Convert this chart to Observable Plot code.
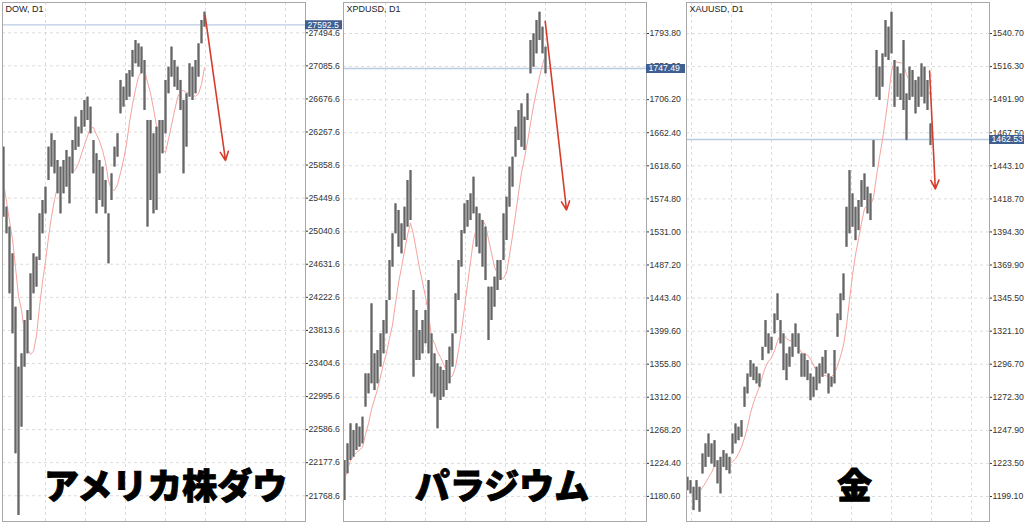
<!DOCTYPE html>
<html><head><meta charset="utf-8">
<script src="https://cdn.jsdelivr.net/npm/d3@7"></script>
<script src="https://cdn.jsdelivr.net/npm/@observablehq/plot@0.6"></script>
<style>
html,body{margin:0;padding:0;background:#fff;}
#row{display:flex;width:1024px;height:527px;overflow:hidden;}
#row svg{flex:none;}
</style></head><body><div id="row"></div>
<script>
// ---- DOW, D1 ----
const dowHigh = [26080,25338,25091,24761,24101,23359,23524,23936,24060,24513,24761,24720,25255,25420,25585,26080,26245,26162,25915,25833,25915,26039,25956,26162,26451,26327,26534,26657,26698,26575,26162,25998,25915,25833,25668,25255,25750,26080,26245,26905,26822,26987,27028,27276,27399,27358,27317,27152,26410,26410,26245,26327,26410,26410,26905,27069,27317,27152,27069,26905,26657,26740,27111,27069,27152,27358,27647,27750];
const dowLow = [25214,25008,24266,23771,22287,21525,22617,23359,23524,23936,24266,24348,24678,25008,25255,25668,25833,25750,25503,25255,25503,25585,25379,25750,26039,26080,26245,26327,26410,26245,25750,25255,25420,25338,25255,24637,25420,25833,25956,26492,26575,26657,26698,26946,27111,27069,26987,26534,25091,25420,25255,25297,25750,25998,26245,26740,26946,26822,26781,26534,25750,26080,26698,26657,26740,26946,27358,27564];
const dowTicks = [27494.6,27085.6,26676.6,26267.6,25858.6,25449.6,25040.6,24631.6,24222.6,23813.6,23404.6,22995.6,22586.6,22177.6,21768.6];
const dowPrice = 27592.5;
const dowArrow = {x1: 67.2, y1: 27709, x2: 74, y2: 25915};

// ---- XPDUSD, D1 ----
const xpdHigh = [1228.2,1250.3,1276.8,1268.0,1276.8,1272.4,1285.6,1343.0,1343.0,1435.7,1369.5,1373.9,1396.0,1413.7,1440.2,1493.1,1528.5,1568.2,1559.4,1541.7,1563.8,1599.1,1612.3,1453.4,1426.9,1400.4,1413.7,1426.9,1466.6,1396.0,1369.5,1356.3,1351.9,1347.4,1360.7,1378.3,1396.0,1449.0,1493.1,1532.9,1568.2,1572.6,1581.4,1603.5,1563.8,1554.9,1546.1,1537.3,1457.8,1457.8,1471.1,1493.1,1493.1,1554.9,1577.0,1616.8,1630.0,1669.7,1691.8,1700.6,1683.0,1713.9,1784.5,1793.4,1811.0,1822.0,1802.2,1775.7];
const xpdLow = [1175.2,1210.6,1228.2,1232.6,1241.5,1245.9,1250.3,1298.9,1316.5,1329.8,1320.9,1329.8,1351.9,1369.5,1396.0,1440.2,1484.3,1528.5,1510.8,1502.0,1519.6,1537.3,1546.1,1338.6,1360.7,1360.7,1369.5,1382.8,1369.5,1316.5,1312.1,1270.2,1307.7,1312.1,1320.9,1329.8,1351.9,1396.0,1440.2,1484.3,1528.5,1537.3,1546.1,1554.9,1510.8,1502.0,1484.3,1466.6,1387.2,1413.7,1431.3,1453.4,1466.6,1493.1,1519.6,1563.8,1590.3,1630.0,1652.1,1643.2,1638.8,1678.6,1740.4,1749.2,1766.9,1784.5,1766.9,1740.4];
const xpdTicks = [1793.80,1750.00,1706.20,1662.40,1618.60,1574.80,1531.00,1487.20,1443.40,1399.60,1355.80,1312.00,1268.20,1224.40,1180.60];
const xpdPrice = 1747.49;
const xpdArrow = {x1: 66.9, y1: 1810, x2: 74, y2: 1560};

// ---- XAUUSD, D1 ----
const xauHigh = [1213.3,1210.8,1205.9,1210.8,1205.9,1230.5,1237.9,1245.2,1237.9,1240.3,1225.5,1228.0,1233.0,1230.5,1228.0,1245.2,1252.6,1250.2,1255.1,1279.7,1289.5,1299.4,1296.9,1294.5,1289.5,1309.2,1328.9,1319.1,1316.6,1333.8,1348.6,1328.9,1319.1,1304.3,1309.2,1319.1,1326.4,1319.1,1304.3,1304.3,1299.4,1289.5,1287.1,1294.5,1296.9,1301.8,1306.8,1289.5,1287.1,1306.8,1333.8,1348.6,1363.3,1412.5,1439.6,1422.4,1412.5,1417.5,1432.2,1437.1,1427.3,1422.4,1461.7,1528.2,1515.9,1525.7,1550.3,1545.4,1556.4,1520.8,1515.9,1510.9,1535.5,1496.2,1515.9,1513.4,1506.0,1508.5,1518.3,1515.9,1506.0,1474.0];
const xauLow = [1203.4,1201.0,1188.7,1196.1,1187.5,1215.7,1220.6,1228.0,1223.1,1220.6,1208.4,1201.0,1220.6,1218.2,1215.7,1230.5,1237.9,1240.3,1242.8,1264.9,1274.8,1287.1,1284.6,1282.2,1279.7,1299.4,1309.2,1304.3,1306.8,1319.1,1328.9,1311.7,1292.0,1284.6,1294.5,1301.8,1309.2,1304.3,1287.1,1287.1,1284.6,1269.8,1272.3,1277.2,1282.2,1287.1,1289.5,1274.8,1279.7,1282.2,1316.6,1328.9,1343.6,1383.0,1392.9,1397.8,1387.9,1395.3,1412.5,1417.5,1407.6,1402.7,1442.0,1493.7,1491.3,1501.1,1523.2,1520.8,1525.7,1486.3,1493.7,1491.3,1483.9,1461.7,1491.3,1493.7,1481.4,1486.3,1493.7,1488.8,1483.9,1458.0];
const xauTicks = [1540.70,1516.30,1491.90,1467.50,1443.10,1418.70,1394.30,1369.90,1345.50,1321.10,1296.70,1272.30,1247.90,1223.50,1199.10];
const xauPrice = 1462.53;
const xauArrow = {x1: 80.7, y1: 1513, x2: 82.6, y2: 1426};

const FONT = "'Liberation Sans', Arial, Helvetica, sans-serif";
const CJK = "'Noto Sans CJK JP', 'Noto Sans CJK SC', sans-serif";

function panel(o) {
  const bars = o.high.map((h, i) => ({i, high: h, low: o.low[i], mid: (h + o.low[i]) / 2}));
  const frameW = o.width - o.ml - o.mr;
  const x0 = -1 / 3, x1 = x0 + frameW / 3;
  const gridX = d3.range(o.gridStart, x1, 40 / 3);
  const yDomain = o.domain;
  const step = o.ticks[0] - o.ticks[1];
  const gridY = [o.ticks[0] + step, ...o.ticks].filter(v => v <= yDomain[1]);
  return Plot.plot({
    width: o.width, height: 527,
    marginLeft: o.ml, marginRight: o.mr, marginTop: 2, marginBottom: 6,
    x: {domain: [x0, x1], axis: null},
    y: {domain: yDomain, axis: "right", ticks: o.ticks, tickFormat: o.fmt, tickSize: 2, tickPadding: 1, label: null},
    style: {fontFamily: FONT, fontSize: "8.7px", color: "#333", background: "#fff", overflow: "visible"},
    marks: [
      Plot.ruleY(gridY, {stroke: "#dcdcdc", strokeDasharray: "3,3"}),
      Plot.ruleX(gridX, {stroke: "#dcdcdc", strokeDasharray: "3,3"}),
      Plot.ruleY([o.price], {stroke: "#b9cbe3", strokeWidth: 1.3}),
      Plot.lineY(bars, Plot.windowY({k: o.maK, anchor: "end"}, {x: "i", y: "mid", stroke: "#f6a29c", strokeWidth: 1})),
      Plot.ruleX(bars, {x: "i", y1: "low", y2: "high", stroke: "#a2a2a2", strokeWidth: 3.05}),
      Plot.ruleX(bars, {x: "i", y1: "low", y2: "high", stroke: "#666", strokeWidth: 1.3}),
      Plot.arrow([o.arrow], {x1: "x1", y1: "y1", x2: "x2", y2: "y2", stroke: "#d63b2b", strokeWidth: 1.6, headLength: 9, headAngle: 50}),
      Plot.frame({stroke: "#a8a8a8"}),
      Plot.text([o.title], {frameAnchor: "top-left", dx: 3, dy: 3.5, fontSize: 9, fill: "#222"}),
      Plot.text([o.label], {frameAnchor: "bottom", dx: o.labelDx, dy: -33.5, lineAnchor: "middle", fontSize: 35, fontWeight: 900, fontFamily: CJK, fill: "#000", stroke: "#000", strokeWidth: 0.9}),
      Plot.ruleY([o.price], {x1: x1, x2: x1 + o.mr / 3, stroke: "#3f5f91", strokeWidth: 9}),
      Plot.text([o.price], {y: d => d, frameAnchor: "right", dx: 2, textAnchor: "start", fill: "#fff", fontSize: 8.7, text: d => o.fmt(d)})
    ]
  });
}

const row = document.getElementById("row");
row.append(panel({
  title: "DOW, D1", label: "アメリカ株ダウ", high: dowHigh, low: dowLow, ticks: dowTicks,
  fmt: d3.format(".1f"), price: dowPrice, arrow: dowArrow, domain: [21450, 27869],
  width: 342, ml: 2, mr: 37, gridStart: 14, labelDx: 11.5, maK: 7
}));
row.append(panel({
  title: "XPDUSD, D1", label: "パラジウム", high: xpdHigh, low: xpdLow, ticks: xpdTicks,
  fmt: d3.format(".2f"), price: xpdPrice, arrow: xpdArrow, domain: [1147.4, 1834.9],
  width: 343, ml: 1, mr: 39, gridStart: 13.67, labelDx: 7, maK: 7
}));
row.append(panel({
  title: "XAUUSD, D1", label: "金", high: xauHigh, low: xauLow, ticks: xauTicks,
  fmt: d3.format(".2f"), price: xauPrice, arrow: xauArrow, domain: [1180.65, 1563.6],
  width: 339, ml: 1, mr: 35, gridStart: 1.33, labelDx: 16.5, maK: 7
}));
</script>
</body></html>
